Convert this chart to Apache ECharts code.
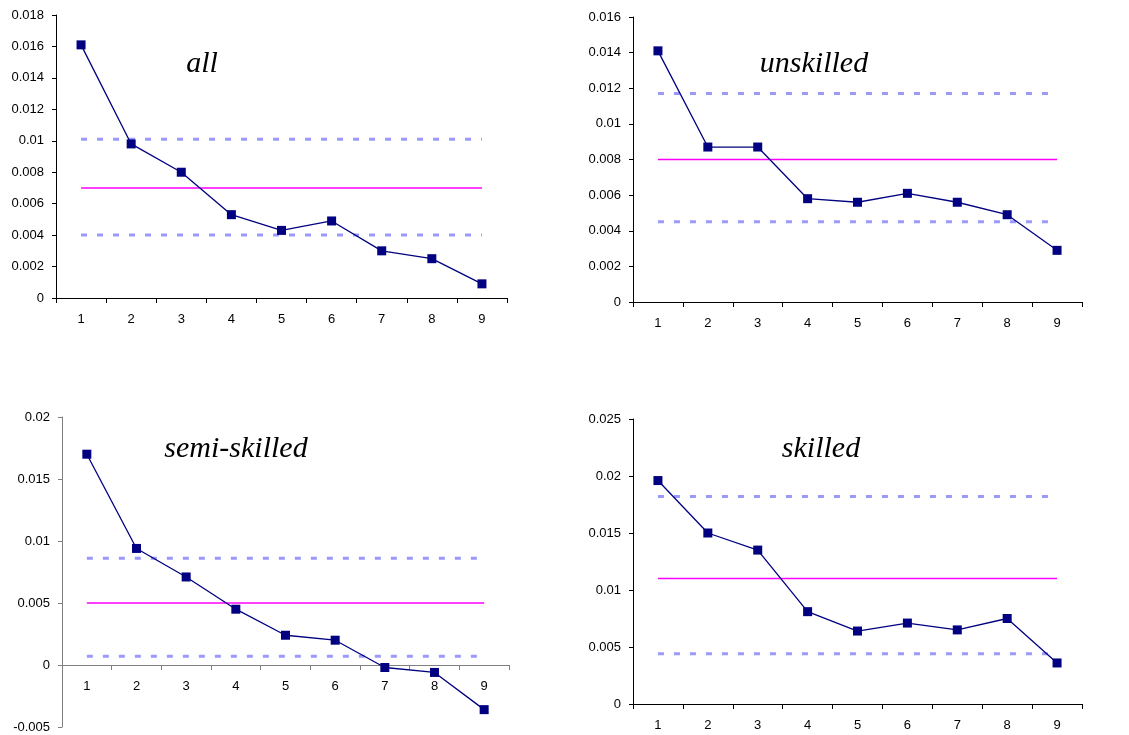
<!DOCTYPE html>
<html>
<head>
<meta charset="utf-8">
<style>
html,body{margin:0;padding:0;background:#fff;}
#chart{width:1129px;height:735px;}
</style>
<script src="https://cdn.jsdelivr.net/npm/echarts@6/dist/echarts.min.js"></script>
</head>
<body>
<div id="chart"></div>
<script>
// ---- data ----
var categories = ['1','2','3','4','5','6','7','8','9'];

var allValues        = [0.0161, 0.0098, 0.0080, 0.0053, 0.0043, 0.0049, 0.0030, 0.0025, 0.0009];
var unskilledValues  = [0.0141, 0.0087, 0.0087, 0.0058, 0.0056, 0.0061, 0.0056, 0.0049, 0.0029];
var semiValues       = [0.0170, 0.0094, 0.0071, 0.0045, 0.0024, 0.0020, -0.0002, -0.0006, -0.0036];
var skilledValues    = [0.0196, 0.0150, 0.0135, 0.0081, 0.0064, 0.0071, 0.0065, 0.0075, 0.0036];

// reference levels: [upper, mean, lower]
var allRef       = [0.0101, 0.0070, 0.0040];
var unskilledRef = [0.0117, 0.0080, 0.0045];
var semiRef      = [0.0086, 0.0050, 0.0007];
var skilledRef   = [0.0182, 0.0110, 0.0044];

// axis ranges: [min, max, interval]
var allAxis       = [0, 0.018, 0.002];
var unskilledAxis = [0, 0.016, 0.002];
var semiAxis      = [-0.005, 0.02, 0.005];
var skilledAxis   = [0, 0.025, 0.005];

var titles = ['all', 'unskilled', 'semi-skilled', 'skilled'];

// ---- layout ----
var panels = [
  {values: allValues, ref: allRef, axis: allAxis, grid: {left: 56, top: 15, width: 451, height: 283}, axisColor: '#000', title: [202, 64]},
  {values: unskilledValues, ref: unskilledRef, axis: unskilledAxis, grid: {left: 633, top: 17, width: 449, height: 285}, axisColor: '#000', title: [814, 64]},
  {values: semiValues, ref: semiRef, axis: semiAxis, grid: {left: 62, top: 417, width: 447, height: 310}, axisColor: '#808080', title: [236, 449]},
  {values: skilledValues, ref: skilledRef, axis: skilledAxis, grid: {left: 633, top: 419, width: 449, height: 285}, axisColor: '#000', title: [821, 449]}
];

var grids = [], xAxes = [], yAxes = [], series = [], graphics = [];
var font = 'Liberation Sans';

panels.forEach(function (p, i) {
  grids.push(Object.assign({containLabel: false, outerBoundsMode: 'none'}, p.grid));
  // place the category axis at value 0 (axis crosses the y axis at zero)
  var zeroOffset = p.axis[0] < 0 ? -p.grid.height * (0 - p.axis[0]) / (p.axis[1] - p.axis[0]) : 0;
  xAxes.push({
    type: 'category', gridIndex: i, data: categories, boundaryGap: true,
    position: 'bottom', offset: zeroOffset,
    axisLine: {show: true, onZero: false, lineStyle: {color: p.axisColor, width: 1}},
    axisTick: {show: true, length: 5, inside: false, lineStyle: {color: p.axisColor}},
    axisLabel: {color: '#000', fontFamily: font, fontSize: 13, margin: 15},
    splitLine: {show: false}
  });
  yAxes.push({
    type: 'value', gridIndex: i, min: p.axis[0], max: p.axis[1], interval: p.axis[2],
    axisLine: {show: true, lineStyle: {color: p.axisColor, width: 1}},
    axisTick: {show: true, length: 4, lineStyle: {color: p.axisColor}},
    axisLabel: {color: '#000', fontFamily: font, fontSize: 13, margin: 12},
    splitLine: {show: false}
  });
  var first = categories[0], last = categories[categories.length - 1];
  // dashed upper / lower bands
  [0, 2].forEach(function (k) {
    series.push({
      type: 'line', xAxisIndex: i, yAxisIndex: i, showSymbol: false, silent: true,
      data: [[first, p.ref[k]], [last, p.ref[k]]],
      lineStyle: {color: '#9999ff', width: 3, type: [6, 10]}, z: 2
    });
  });
  // mean line
  series.push({
    type: 'line', xAxisIndex: i, yAxisIndex: i, showSymbol: false, silent: true,
    data: [[first, p.ref[1]], [last, p.ref[1]]],
    itemStyle: {color: '#ff00ff'},
    lineStyle: {color: '#ff00ff', width: 1.5}, z: 2
  });
  // data series
  series.push({
    type: 'line', xAxisIndex: i, yAxisIndex: i, data: p.values,
    symbol: 'rect', symbolSize: 9, showAllSymbol: true,
    itemStyle: {color: '#000080'},
    lineStyle: {color: '#000080', width: 1.3}, z: 5
  });
  graphics.push({
    type: 'text', x: p.title[0], y: p.title[1],
    style: {text: titles[i], font: 'italic 30px "Liberation Serif"', fill: '#000', textAlign: 'center', textVerticalAlign: 'middle'}
  });
});

var chart = echarts.init(document.getElementById('chart'), null, {renderer: 'canvas'});
chart.setOption({
  animation: false,
  backgroundColor: '#fff',
  grid: grids,
  xAxis: xAxes,
  yAxis: yAxes,
  series: series,
  graphic: graphics
});
</script>
</body>
</html>
